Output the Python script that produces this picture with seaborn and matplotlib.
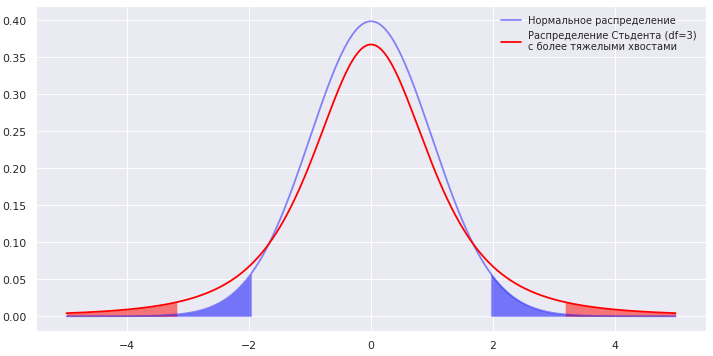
import numpy as np
import matplotlib.pyplot as plt
import seaborn as sns
from math import gamma, pi, sqrt

# chart parameters
x_range = [-5, 5]
df_t = 3
norm_cut = 1.96      # normal two-sided 5% critical value
t_cut = 3.182        # Student t (df=3) two-sided 5% critical value
labels = ["Нормальное распределение",
          "Распределение Стьдента (df=3)\nс более тяжелыми хвостами"]

sns.set_theme(style="darkgrid")

x = np.linspace(x_range[0], x_range[1], 1000)
norm_pdf = np.exp(-x ** 2 / 2) / np.sqrt(2 * np.pi)
c = gamma((df_t + 1) / 2) / (sqrt(df_t * pi) * gamma(df_t / 2))
t_pdf = c * (1 + x ** 2 / df_t) ** (-(df_t + 1) / 2)

fig, ax = plt.subplots(figsize=(10, 5), dpi=71.3)
sns.lineplot(x=x, y=norm_pdf, color="blue", alpha=0.45, linewidth=1.8,
             label=labels[0], ax=ax)
sns.lineplot(x=x, y=t_pdf, color="red", linewidth=1.8, label=labels[1], ax=ax)

ax.fill_between(x, norm_pdf, where=x <= -norm_cut, color="blue", alpha=0.5, linewidth=0)
ax.fill_between(x, norm_pdf, where=x >= norm_cut, color="blue", alpha=0.5, linewidth=0)
ax.fill_between(x, t_pdf, where=x <= -t_cut, color="red", alpha=0.5, linewidth=0)
ax.fill_between(x, t_pdf, where=x >= t_cut, color="red", alpha=0.5, linewidth=0)

ax.set_yticks(np.arange(0, 0.401, 0.05))
ax.legend(loc="upper right", frameon=False, fontsize=10)
fig.subplots_adjust(left=36 / 713, right=706 / 713, top=1 - 7 / 357, bottom=1 - 332 / 357)
fig.savefig("out.png", dpi=71.3)
